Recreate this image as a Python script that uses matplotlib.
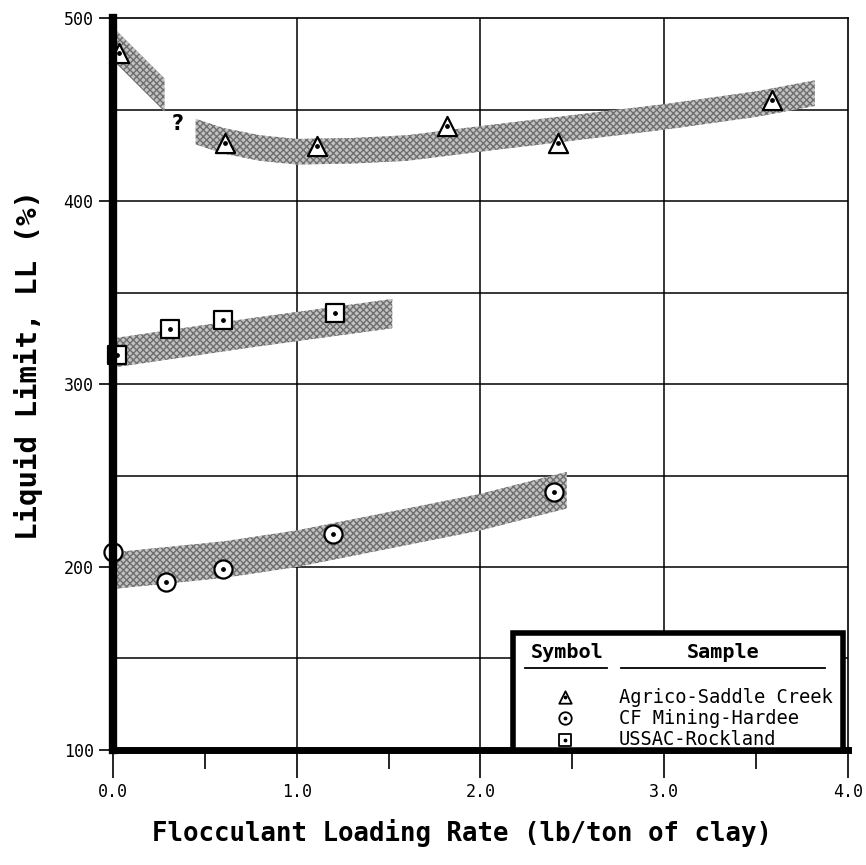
import numpy as np
import matplotlib.pyplot as plt
from matplotlib.patches import Rectangle

# measured points
tri_x = [0.03, 0.61, 1.11, 1.82, 2.42, 3.59]
tri_y = [481, 432, 430, 441, 432, 455]
cir_x = [0.0, 0.29, 0.60, 1.20, 2.40]
cir_y = [208, 192, 199, 218, 241]
sq_x = [0.02, 0.31, 0.60, 1.21]
sq_y = [316, 330, 335, 339]

# shaded trend bands (center line, half width in %)
band1_x = [0.02, 0.28]
band1_y = [484, 458]
band2_x = [0.45, 0.6, 0.8, 1.0, 1.3, 1.6, 2.0, 2.5, 3.0, 3.5, 3.82]
band2_y = [438, 433, 429, 427, 427.5, 429, 434, 440, 446, 453, 459]
band_sq_x = [0.0, 0.75, 1.52]
band_sq_y = [317, 328, 338.5]
band_cir_x = [0.0, 0.6, 1.0, 1.5, 2.0, 2.47]
band_cir_y = [198, 204, 210, 220, 230, 242]
band_half = [9, 7, 8, 10]

legend_names = ['Agrico-Saddle Creek', 'CF Mining-Hardee', 'USSAC-Rockland']

mono = 'DejaVu Sans Mono'

fig = plt.figure(figsize=(8.66, 8.65), dpi=100)
ax = fig.add_axes([0.1305, 0.133, 0.8485, 0.846])

bands = [(band1_x, band1_y), (band2_x, band2_y), (band_sq_x, band_sq_y), (band_cir_x, band_cir_y)]
for (bx, by), h in zip(bands, band_half):
    bx = np.array(bx)
    by = np.array(by)
    ax.fill_between(bx, by - h, by + h, facecolor='#c2c2c2', edgecolor='#6e6e6e',
                    hatch='xxxxx', linewidth=0, zorder=2)

def draw(xs, ys, m, s):
    ax.scatter(xs, ys, marker=m, s=s, facecolor='white', edgecolor='black',
               linewidth=1.6, zorder=5, clip_on=False)
    ax.scatter(xs, ys, marker='o', s=6, color='black', zorder=6, clip_on=False)

draw(tri_x, tri_y, '^', 190)
draw(cir_x, cir_y, 'o', 170)
draw(sq_x, sq_y, 's', 160)

ax.text(0.35, 442, '?', fontsize=15, fontweight='bold', ha='center', va='center', zorder=6)

ax.set_xlim(0, 4.0)
ax.set_ylim(100, 500)
ax.set_xticks([0, 1, 2, 3, 4])
ax.set_xticklabels(['0.0', '1.0', '2.0', '3.0', '4.0'], family=mono, fontsize=12)
ax.set_xticks([0.5, 1.5, 2.5, 3.5], minor=True)
ax.set_yticks([100, 200, 300, 400, 500])
ax.set_yticklabels(['100', '200', '300', '400', '500'], family=mono, fontsize=12)
ax.tick_params(axis='x', which='major', length=20, width=1.2, pad=4)
ax.tick_params(axis='x', which='minor', length=14, width=1.2)
ax.tick_params(axis='y', length=10, width=1.2, pad=4)

for v in [1, 2, 3]:
    ax.axvline(v, color='black', lw=1.1, zorder=1)
for v in [150, 200, 250, 300, 350, 400, 450]:
    ax.axhline(v, color='black', lw=1.1, zorder=1)

ax.spines['left'].set_linewidth(6)
ax.spines['bottom'].set_linewidth(5)
ax.spines['top'].set_linewidth(1.2)
ax.spines['right'].set_linewidth(1.2)
for s in ax.spines.values():
    s.set_zorder(7)

ax.set_xlabel('Flocculant Loading Rate (lb/ton of clay)', family=mono, fontsize=18.5,
              fontweight='bold')
ax.set_ylabel('Liquid Limit, LL (%)', family=mono, fontsize=21, fontweight='bold')
ax.xaxis.set_label_coords(0.475, -0.094)
ax.yaxis.set_label_coords(-0.095, 0.526)

# legend table
ax.add_patch(Rectangle((0.544, 0.0), 0.449, 0.16, transform=ax.transAxes, facecolor='white',
                       edgecolor='black', linewidth=4, zorder=8))
ax.text(0.618, 0.1325, 'Symbol', transform=ax.transAxes, family=mono, fontsize=14.5,
        fontweight='bold', ha='center', va='center', zorder=9)
ax.text(0.83, 0.1325, 'Sample', transform=ax.transAxes, family=mono, fontsize=14.5,
        fontweight='bold', ha='center', va='center', zorder=9)
ax.plot([0.561, 0.672], [0.112, 0.112], transform=ax.transAxes, color='black', lw=1.3, zorder=9)
ax.plot([0.692, 0.969], [0.112, 0.112], transform=ax.transAxes, color='black', lw=1.3, zorder=9)
leg_marks = ['^', 'o', 's']
for i, (m, name) in enumerate(zip(leg_marks, legend_names)):
    yy = 0.072 - i * 0.029
    ax.scatter([0.615], [yy], marker=m, s=80, facecolor='white', edgecolor='black',
               linewidth=1.3, transform=ax.transAxes, zorder=9)
    ax.scatter([0.615], [yy], marker='o', s=3, color='black', transform=ax.transAxes, zorder=10)
    ax.text(0.688, yy, name, transform=ax.transAxes, family=mono, fontsize=13.5,
            ha='left', va='center', zorder=9)

fig.savefig('out.png', dpi=100)
